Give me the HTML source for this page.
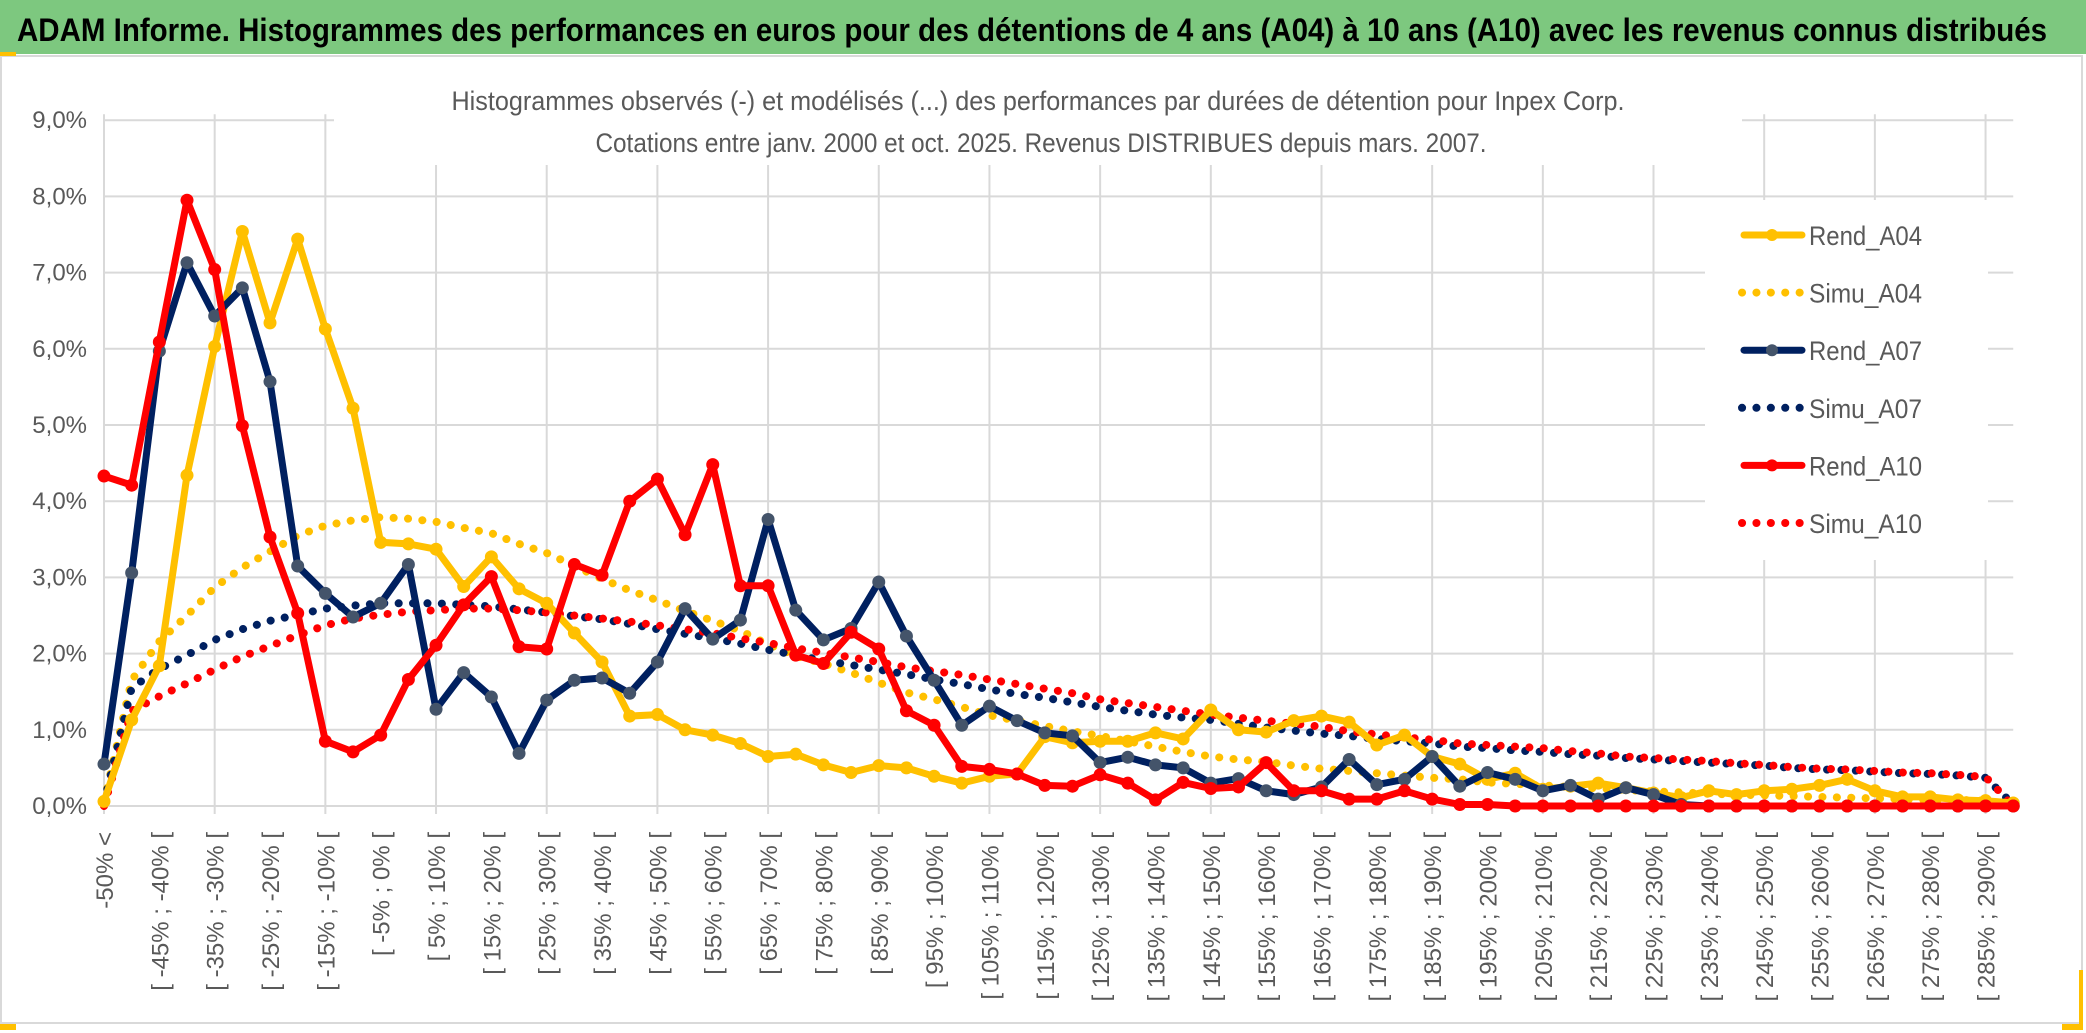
<!DOCTYPE html>
<html><head><meta charset="utf-8"><style>
html,body{margin:0;padding:0;background:#fff;}
svg{display:block;font-family:"Liberation Sans",sans-serif;}
</style></head><body>
<svg id="chart" width="2086" height="1033" viewBox="0 0 2086 1033" xmlns="http://www.w3.org/2000/svg">
<rect x="0" y="0" width="2086" height="1033" fill="#fff"/>
<rect x="0" y="0" width="2086" height="54" fill="#7DC87F"/>
<text x="1032" y="41" text-anchor="middle" font-size="32" font-weight="bold" fill="#000" textLength="2030" lengthAdjust="spacingAndGlyphs">ADAM Informe. Histogrammes des performances en euros pour des détentions de 4 ans (A04) à 10 ans (A10) avec les revenus connus distribués</text>
<rect x="1" y="56" width="2081" height="967" fill="none" stroke="#d9d9d9" stroke-width="2"/>
<rect x="0" y="52" width="16" height="4" fill="#FFC000"/>
<rect x="0" y="1024" width="16" height="6" fill="#FFC000"/>
<rect x="2079" y="970" width="4" height="60" fill="#FFC000"/>
<rect x="2062" y="1024" width="20" height="6" fill="#FFC000"/>
<g id="grid"></g>
<rect x="334" y="112" width="1408" height="53" fill="#fff"/>
<text x="1038" y="110" text-anchor="middle" font-size="27" fill="#595959" textLength="1173" lengthAdjust="spacingAndGlyphs">Histogrammes observés (-) et modélisés (...) des performances par durées de détention pour Inpex Corp.</text>
<text x="1041" y="152" text-anchor="middle" font-size="27" fill="#595959" textLength="891" lengthAdjust="spacingAndGlyphs">Cotations entre janv. 2000 et oct. 2025. Revenus DISTRIBUES depuis mars. 2007.</text>
<g id="yaxis"></g>
<g id="xaxis"></g>
<g id="series"></g>
<rect x="1705" y="200" width="283" height="360" fill="#fff"/>
<g id="legend"></g>
</svg>
<script>
const rendA04 = [0.06,1.13,1.84,4.34,6.03,7.54,6.34,7.44,6.26,5.22,3.46,3.44,3.37,2.88,3.27,2.85,2.66,
 2.27,1.89,1.18,1.2,1.0,0.93,0.82,0.65,0.68,0.54,0.44,0.53,0.5,0.39,0.3,0.39,0.42,
 0.91,0.83,0.85,0.85,0.96,0.88,1.26,1.0,0.97,1.12,1.18,1.1,0.8,0.93,0.65,0.55,0.35,0.43,
 0.22,0.26,0.3,0.24,0.17,0.11,0.2,0.15,0.2,0.22,0.27,0.35,0.2,0.12,0.12,0.08,0.07,0.04];
const rendA07 = [0.55,3.06,5.97,7.13,6.43,6.8,5.57,3.15,2.79,2.48,2.66,3.17,1.27,1.75,1.43,0.69,1.39,
 1.65,1.68,1.48,1.89,2.59,2.19,2.44,3.76,2.57,2.18,2.33,2.94,2.23,1.65,1.06,1.31,1.12,
 0.96,0.92,0.57,0.64,0.54,0.5,0.3,0.36,0.2,0.15,0.25,0.61,0.28,0.35,0.65,0.26,0.44,0.35,
 0.2,0.27,0.09,0.24,0.15,0.02,0,0,0,0,0,0,0,0,0,0,0,0];
const rendA10 = [4.33,4.21,6.09,7.95,7.04,4.99,3.53,2.53,0.85,0.71,0.93,1.66,2.11,2.64,3.01,2.09,2.06,
 3.17,3.03,4.0,4.29,3.56,4.48,2.89,2.89,1.98,1.87,2.28,2.06,1.25,1.06,0.52,0.48,0.42,
 0.27,0.26,0.41,0.3,0.08,0.31,0.23,0.25,0.57,0.2,0.2,0.09,0.09,0.2,0.09,0.02,0.02,0,
 0,0,0,0,0,0,0,0,0,0,0,0,0,0,0,0,0,0];
const simuA04 = [0.05,1.65,2.16,2.5,2.87,3.13,3.34,3.55,3.68,3.75,3.79,3.77,3.73,3.65,3.58,3.44,3.32,
 3.15,2.98,2.83,2.7,2.56,2.43,2.3,2.12,1.97,1.87,1.75,1.62,1.49,1.4,1.3,1.19,1.12,
 1.05,0.98,0.92,0.85,0.78,0.71,0.65,0.61,0.58,0.53,0.49,0.46,0.43,0.4,0.37,0.35,0.31,0.29,
 0.27,0.25,0.23,0.21,0.19,0.18,0.16,0.15,0.14,0.13,0.12,0.11,0.1,0.09,0.08,0.08,0.07,0.0];
const simuA07 = [0.04,1.55,1.8,1.98,2.18,2.32,2.43,2.51,2.59,2.63,2.66,2.66,2.66,2.64,2.62,2.58,2.54,
 2.49,2.45,2.39,2.32,2.26,2.2,2.13,2.05,1.98,1.91,1.85,1.79,1.73,1.66,1.6,1.53,1.47,
 1.42,1.36,1.3,1.25,1.2,1.16,1.13,1.08,1.03,0.99,0.95,0.92,0.88,0.85,0.82,0.78,0.76,0.73,
 0.71,0.68,0.66,0.63,0.61,0.59,0.57,0.55,0.53,0.5,0.48,0.47,0.45,0.43,0.42,0.4,0.37,0.02];
const simuA10 = [0.0,1.25,1.44,1.61,1.79,1.96,2.1,2.24,2.37,2.46,2.51,2.55,2.57,2.59,2.59,2.57,2.54,
 2.5,2.46,2.42,2.37,2.32,2.27,2.2,2.14,2.07,2.01,1.95,1.89,1.82,1.77,1.72,1.66,1.6,
 1.54,1.48,1.4,1.35,1.3,1.25,1.2,1.16,1.12,1.08,1.04,0.98,0.94,0.9,0.87,0.82,0.8,0.78,
 0.76,0.72,0.69,0.65,0.63,0.61,0.59,0.56,0.54,0.51,0.49,0.48,0.46,0.44,0.43,0.41,0.38,0.0];
const yTicks = [0,1,2,3,4,5,6,7,8,9];
const yTickLabels = ["0,0%","1,0%","2,0%","3,0%","4,0%","5,0%","6,0%","7,0%","8,0%","9,0%"];
const categories = [];
categories.push("-50% <");
for (let i = 1; i < 70; i++) { const a = -50 + 5*(i-1); categories.push("[ " + a + "% ; " + (a+5) + "% ["); }

const NS = "http://www.w3.org/2000/svg";
const X0 = 104, DX = 27.67, Y0 = 806, DY = 76.2;
const xs = i => X0 + DX*i;
const ys = v => Y0 - DY*v;
function mk(tag, attrs, parent){ const e = document.createElementNS(NS, tag); for (const k in attrs) e.setAttribute(k, attrs[k]); parent.appendChild(e); return e; }

const grid = document.getElementById('grid');
yTicks.forEach(t => {
  const l = mk('line', {x1: X0, x2: xs(categories.length-1), y1: ys(t), y2: ys(t), stroke:'#d9d9d9','stroke-width':2}, grid);
  
  
});
for (let i = 0; i < categories.length; i += 4) {
  const l = mk('line', {x1: xs(i), x2: xs(i), y1: ys(9)-6, y2: Y0+8, stroke:'#d9d9d9','stroke-width':2}, grid);
  
  
}
const ya = document.getElementById('yaxis');
yTicks.forEach((t, k) => {
  const tx = mk('text', {x: 87, y: ys(t)+8, 'text-anchor':'end','font-size':24, fill:'#595959'}, ya);
  tx.textContent = yTickLabels[k];
  
  
});
const xa = document.getElementById('xaxis');
for (let i = 0; i < categories.length; i += 2) {
  const x = xs(i) + 9, y = 832;
  const tx = mk('text', {x: x, y: y, transform: 'rotate(-90 '+x+' '+y+')', 'text-anchor':'end','font-size':24, fill:'#595959'}, xa);
  tx.textContent = categories[i];
  
  
}
const sg = document.getElementById('series');
function pts(arr){ return arr.map((v,i) => xs(i).toFixed(1)+','+ys(v).toFixed(1)).join(' '); }
function dotted(arr, color, name){
  const p = mk('polyline', {points: pts(arr), fill:'none', stroke: color, 'stroke-width':8, 'stroke-linecap':'round', 'stroke-dasharray':'0.1 14.3'}, sg);
  
  
}
function solid(arr, color, mcolor, name){
  const p = mk('polyline', {points: pts(arr), fill:'none', stroke: color, 'stroke-width':7, 'stroke-linejoin':'round'}, sg);
  
  
  arr.forEach((v,i) => {
    const c = mk('circle', {cx: xs(i), cy: ys(v), r: 6.5, fill: mcolor}, sg);
    
    
  });
}
dotted(simuA04, '#FFC000', 'simu-a04-line');
dotted(simuA07, '#002060', 'simu-a07-line');
dotted(simuA10, '#FF0000', 'simu-a10-line');
solid(rendA04, '#FFC000', '#FFC000', 'rend-a04-line');
solid(rendA07, '#002060', '#44546A', 'rend-a07-line');
solid(rendA10, '#FF0000', '#FF0000', 'rend-a10-line');

const lg = document.getElementById('legend');
const entries = [["Rend_A04","#FFC000","#FFC000",false],["Simu_A04","#FFC000","",true],["Rend_A07","#002060","#44546A",false],["Simu_A07","#002060","",true],["Rend_A10","#FF0000","#FF0000",false],["Simu_A10","#FF0000","",true]];
entries.forEach((e, k) => {
  const y = 235 + 57.6*k;
  const g = mk('g', {}, lg);
  
  
  if (e[3]) {
    mk('line', {x1:1742, x2:1800, y1:y, y2:y, stroke:e[1], 'stroke-width':8, 'stroke-linecap':'round', 'stroke-dasharray':'0.1 14.3'}, g);
  } else {
    mk('line', {x1:1744, x2:1802, y1:y, y2:y, stroke:e[1], 'stroke-width':7, 'stroke-linecap':'round'}, g);
    mk('circle', {cx:1772, cy:y, r:6, fill:e[2]}, g);
  }
  const t = mk('text', {x:1809, y:y+10, 'font-size':27, fill:'#595959', textLength:113, lengthAdjust:'spacingAndGlyphs'}, g);
  t.textContent = e[0];
});
</script>
</body></html>
